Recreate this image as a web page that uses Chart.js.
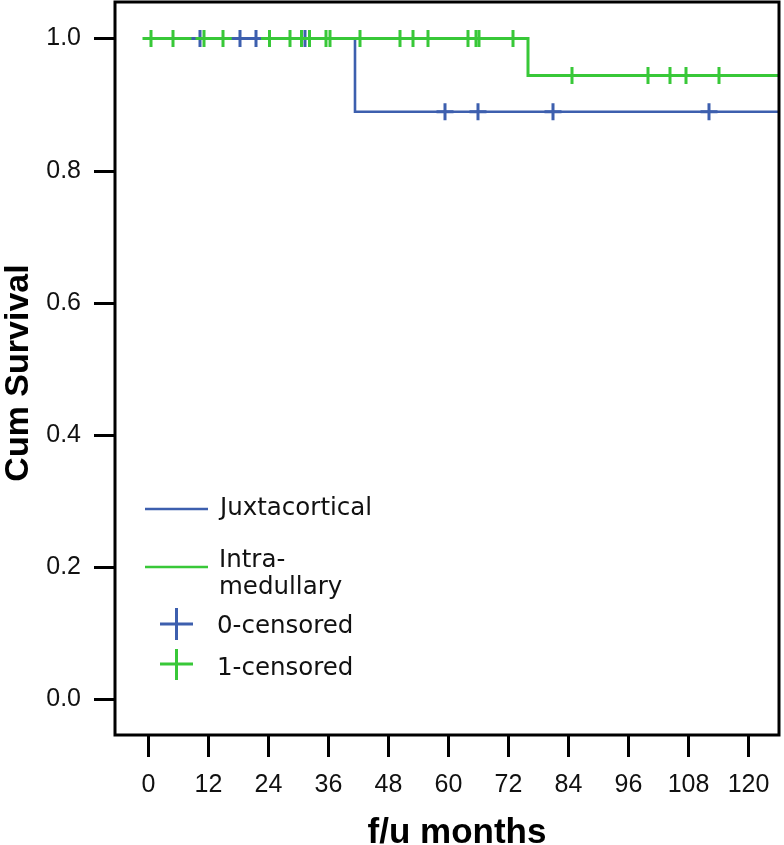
<!DOCTYPE html>
<html>
<head>
<meta charset="utf-8">
<script src="https://cdn.jsdelivr.net/npm/chart.js@4.4.1/dist/chart.umd.min.js"></script>
<style>
  html, body { margin: 0; padding: 0; background: #fff; }
  #wrap { width: 784px; height: 845px; position: relative; }
</style>
</head>
<body>
<div id="wrap"><canvas id="c" width="784" height="845"></canvas></div>
<script>
// ---- data ----
const xTickValues = [0, 12, 24, 36, 48, 60, 72, 84, 96, 108, 120];
const yTickValues = [0.0, 0.2, 0.4, 0.6, 0.8, 1.0];

const juxtaStepMonths   = [0, 41.4, 127];
const juxtaStepSurvival = [1.0, 0.889, 0.889];
const intraStepMonths   = [0, 76.0, 127];
const intraStepSurvival = [1.0, 0.944, 0.944];

const juxtaCensorMonths   = [10.4, 18.4, 21.6, 31.4, 59.4, 66.0, 81.0, 112.2];
const juxtaCensorSurvival = [1.0, 1.0, 1.0, 1.0, 0.889, 0.889, 0.889, 0.889];
const intraCensorMonths   = [0.6, 5.0, 11.2, 15.0, 24.3, 28.4, 30.7, 32.3, 35.6, 36.4, 42.4, 50.4, 53.0, 56.0, 64.0, 65.6, 66.2, 73.0, 84.8, 100.0, 104.4, 107.6, 114.2];
const intraCensorSurvival = [1.0, 1.0, 1.0, 1.0, 1.0, 1.0, 1.0, 1.0, 1.0, 1.0, 1.0, 1.0, 1.0, 1.0, 1.0, 1.0, 1.0, 1.0, 0.944, 0.944, 0.944, 0.944, 0.944];

const seriesLabels = ['Juxtacortical', 'Intra-\nmedullary', '0-censored', '1-censored'];
const xTitle = 'f/u months';
const yTitle = 'Cum Survival';

const BLUE = '#3d5fae';
const GREEN = '#38c838';
const TICK_FONT = '25px "Liberation Sans", Arial, sans-serif';

const pts = (xs, ys) => xs.map((x, i) => ({ x: x, y: ys[i] }));

const framePlugin = {
  id: 'frame',
  afterDatasetsDraw(chart) {
    const { ctx, chartArea: a } = chart;
    ctx.save();
    ctx.strokeStyle = '#000';
    ctx.lineWidth = 3;
    ctx.strokeRect(a.left, a.top, a.right - a.left, a.bottom - a.top);
    ctx.restore();
  },
  afterDraw(chart) {
    const { ctx, chartArea: a } = chart;
    const xs = chart.scales.x, ys = chart.scales.y;
    ctx.save();
    // axis ticks and labels
    ctx.strokeStyle = '#000';
    ctx.lineWidth = 3;
    ctx.fillStyle = '#111';
    ctx.font = TICK_FONT;
    ctx.textAlign = 'center';
    ctx.textBaseline = 'middle';
    xTickValues.forEach(v => {
      const px = Math.round(xs.getPixelForValue(v)) + 0.5;
      ctx.beginPath(); ctx.moveTo(px, a.bottom); ctx.lineTo(px, a.bottom + 22); ctx.stroke();
      ctx.fillText(String(v), px, 785);
    });
    ctx.textAlign = 'right';
    yTickValues.forEach(v => {
      const py = Math.round(ys.getPixelForValue(v)) + 0.5;
      ctx.beginPath(); ctx.moveTo(a.left - 21, py); ctx.lineTo(a.left, py); ctx.stroke();
      ctx.fillText(v.toFixed(1), 81, py);
    });

    // axis titles
    ctx.fillStyle = '#000';
    ctx.font = 'bold 35px "Liberation Sans", Arial, sans-serif';
    ctx.textAlign = 'center';
    ctx.textBaseline = 'alphabetic';
    ctx.fillText(xTitle, 457, 843);
    ctx.save();
    ctx.translate(28, 373);
    ctx.rotate(-Math.PI / 2);
    ctx.font = 'bold 34px "Liberation Sans", Arial, sans-serif';
    ctx.fillText(yTitle, 0, 0);
    ctx.restore();

    // legend
    ctx.lineCap = 'butt';
    ctx.lineWidth = 2.5;
    ctx.strokeStyle = BLUE;
    ctx.beginPath(); ctx.moveTo(145, 509); ctx.lineTo(208, 509); ctx.stroke();
    ctx.strokeStyle = GREEN;
    ctx.beginPath(); ctx.moveTo(145, 567); ctx.lineTo(208, 567); ctx.stroke();
    ctx.lineWidth = 3;
    ctx.strokeStyle = BLUE;
    ctx.beginPath(); ctx.moveTo(160, 624); ctx.lineTo(193, 624); ctx.moveTo(176.5, 608); ctx.lineTo(176.5, 640); ctx.stroke();
    ctx.strokeStyle = GREEN;
    ctx.beginPath(); ctx.moveTo(160, 664); ctx.lineTo(193, 664); ctx.moveTo(176.5, 649); ctx.lineTo(176.5, 680); ctx.stroke();

    ctx.fillStyle = '#111';
    ctx.font = '24.5px "DejaVu Sans", sans-serif';
    ctx.textAlign = 'left';
    ctx.textBaseline = 'alphabetic';
    ctx.fillText(seriesLabels[0], 220, 515);
    const parts = seriesLabels[1].split('\n');
    ctx.fillText(parts[0], 219, 567);
    ctx.fillText(parts[1], 219, 594);
    ctx.fillText(seriesLabels[2], 217, 633);
    ctx.fillText(seriesLabels[3], 217, 675);
    ctx.restore();
  }
};

new Chart(document.getElementById('c'), {
  type: 'scatter',
  data: {
    datasets: [
      { label: seriesLabels[3], data: pts(intraCensorMonths, intraCensorSurvival), showLine: false, pointStyle: 'cross', pointRadius: 8.5, pointBorderWidth: 3, pointBorderColor: GREEN, pointBackgroundColor: GREEN },
      { label: seriesLabels[2], data: pts(juxtaCensorMonths, juxtaCensorSurvival), showLine: false, pointStyle: 'cross', pointRadius: 8.5, pointBorderWidth: 3, pointBorderColor: BLUE, pointBackgroundColor: BLUE },
      { label: 'Intra-medullary', data: pts(intraStepMonths, intraStepSurvival), showLine: true, stepped: true, borderColor: GREEN, borderWidth: 3, pointRadius: 0, fill: false, clip: 0 },
      { label: seriesLabels[0], data: pts(juxtaStepMonths, juxtaStepSurvival), showLine: true, stepped: true, borderColor: BLUE, borderWidth: 2.6, pointRadius: 0, fill: false, clip: 0 }
    ]
  },
  options: {
    responsive: false,
    animation: false,
    events: [],
    layout: { autoPadding: false, padding: { top: 2, right: 5, left: 0, bottom: 0 } },
    plugins: { legend: { display: false }, tooltip: { enabled: false }, title: { display: false } },
    scales: {
      x: {
        type: 'linear', min: -6.6, max: 126.2,
        afterBuildTicks: s => { s.ticks = xTickValues.map(v => ({ value: v })); },
        afterFit: s => { s.height = 110; s.paddingLeft = 0; s.paddingRight = 0; s.paddingTop = 0; s.paddingBottom = 0; },
        grid: { display: false, drawTicks: false }, border: { display: false }, ticks: { display: false }
      },
      y: {
        type: 'linear', min: -0.05452, max: 1.05526,
        afterBuildTicks: s => { s.ticks = yTickValues.map(v => ({ value: v })); },
        afterFit: s => { s.width = 115; s.paddingLeft = 0; s.paddingRight = 0; s.paddingTop = 0; s.paddingBottom = 0; },
        grid: { display: false, drawTicks: false }, border: { display: false }, ticks: { display: false }
      }
    }
  },
  plugins: [framePlugin]
});
</script>
</body>
</html>
